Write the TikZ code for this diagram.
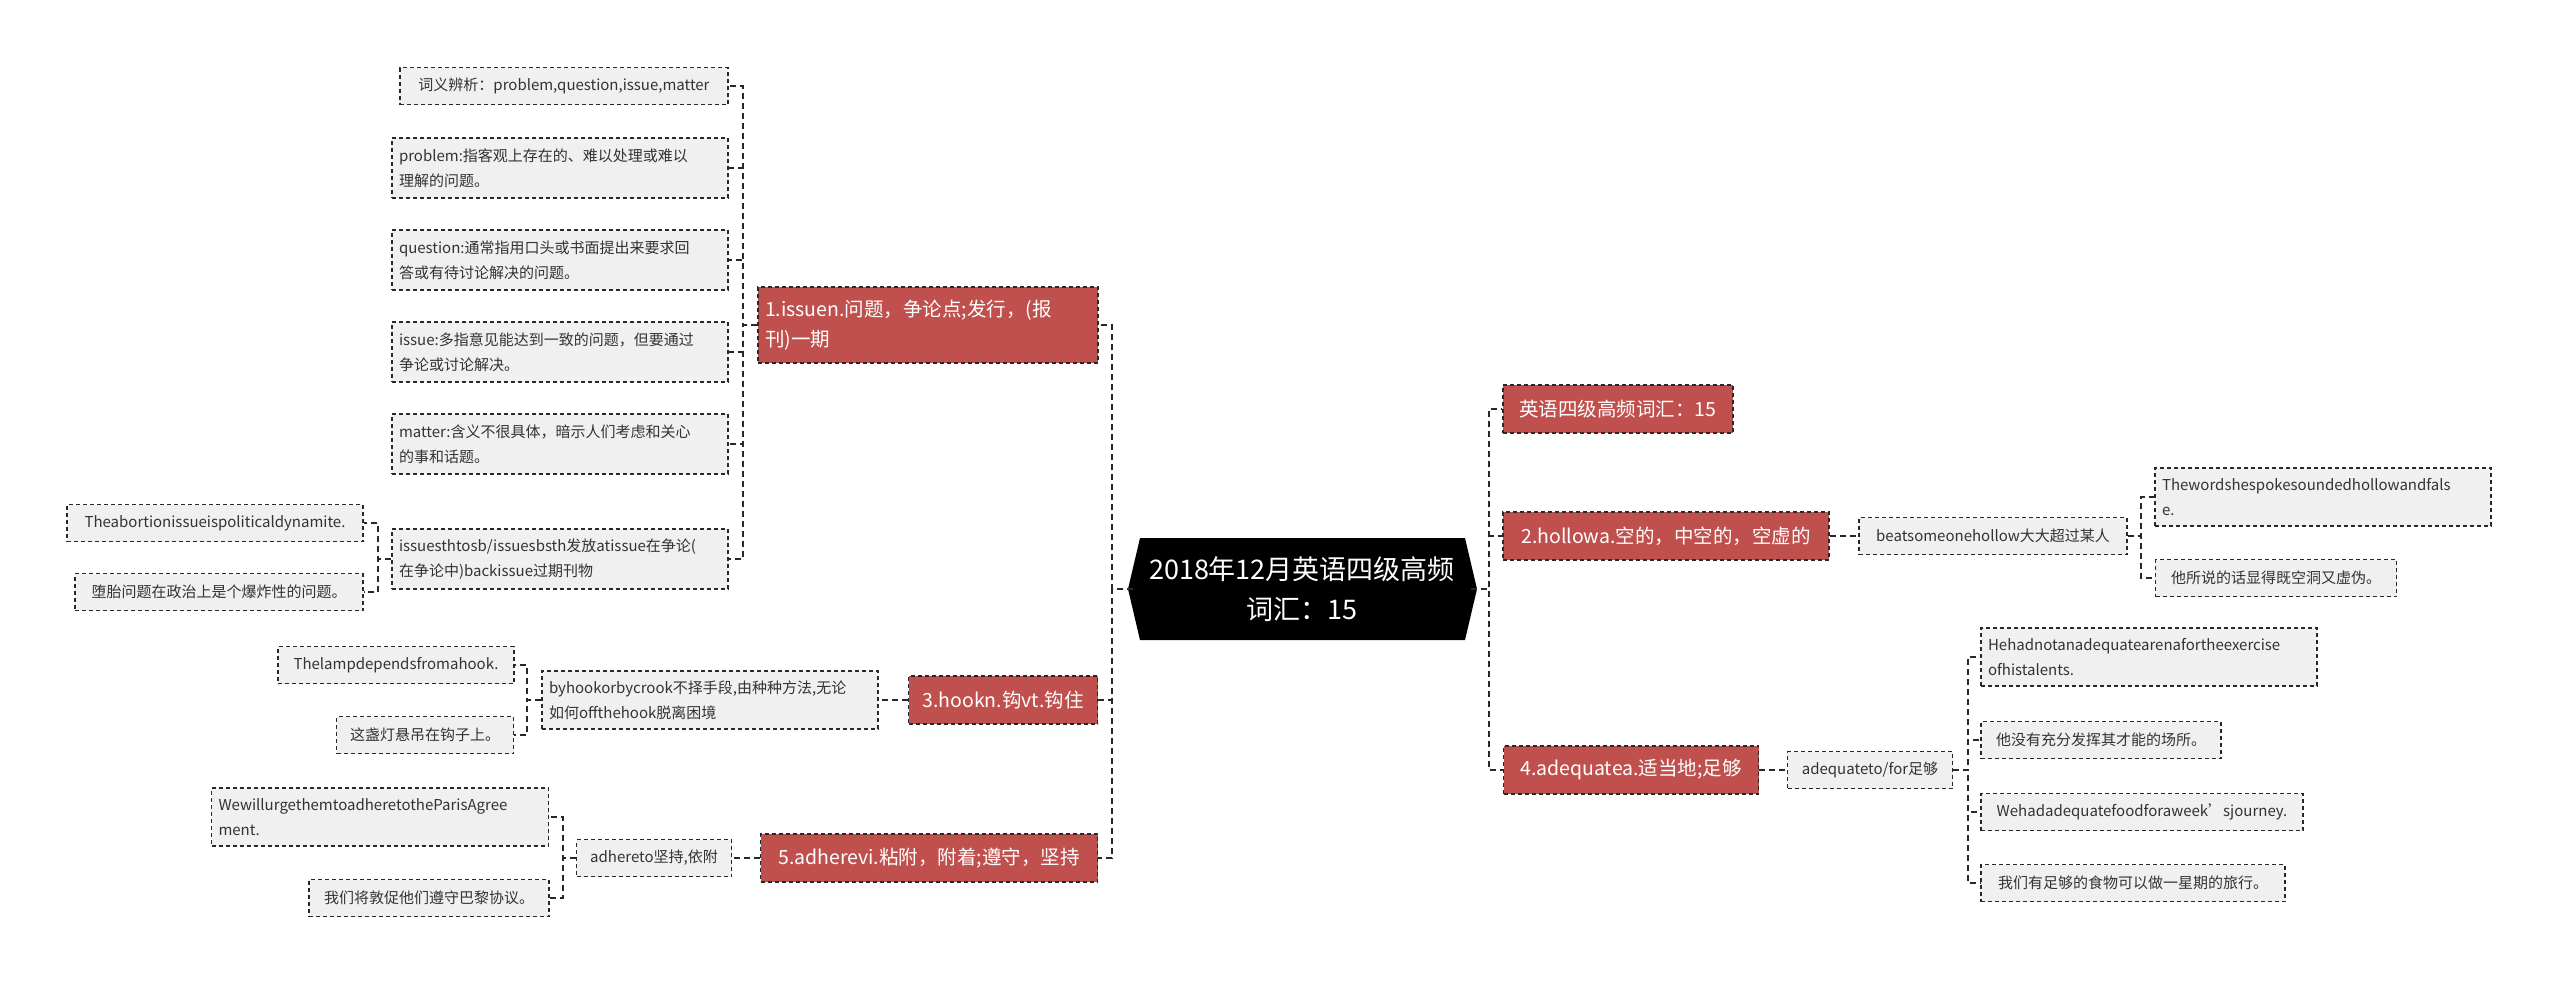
\documentclass[tikz,border=0pt]{standalone}
\usepackage{fontspec}
\setmainfont{Noto Sans CJK SC}
\definecolor{redbox}{RGB}{192,80,77}
\definecolor{greybox}{RGB}{240,240,240}
\definecolor{lineclr}{RGB}{40,40,40}
\begin{document}
\begin{tikzpicture}[x=1pt,y=-1pt,
  leaf/.style={draw=lineclr,fill=greybox,dash pattern=on 4pt off 3pt,line width=1.3pt,font=\fontsize{15}{25}\selectfont,text=black!80,align=left,inner xsep=6pt,anchor=center},
  topic/.style={draw=lineclr,fill=redbox,dash pattern=on 4pt off 3pt,line width=1.3pt,font=\fontsize{19.5}{30}\selectfont,text=white,align=left,inner xsep=6pt,anchor=center},
  conn/.style={draw=lineclr,dash pattern=on 6pt off 4pt,line width=1.4pt}]
\useasboundingbox (0,0) rectangle (2560,983);
% root
\node[minimum width=337,minimum height=102,inner sep=0] (root) at (1302,589) {};
\fill[black] (1140,538) -- (1465,538) -- (1477,589) -- (1465,640) -- (1140,640) -- (1128,589) -- cycle;
\node[text=white,align=center,font=\fontsize{27}{40}\selectfont] (roottxt) at (1302,589) {2018年12月英语四级高频\\词汇：15};
\coordinate (sL) at (1112,0);
\coordinate (sR) at (1489,0);
% right topics
\node[topic,minimum width=230,minimum height=48] (t0) at (1618,409) {英语四级高频词汇：15};
\node[topic,minimum width=326,minimum height=48] (t2) at (1666,536) {2.hollowa.空的，中空的，空虚的};
\node[topic,minimum width=255,minimum height=48] (t4) at (1631,770) {4.adequatea.适当地;足够};
\node[leaf,minimum width=268,minimum height=37] (b1) at (1993,536) {beatsomeonehollow大大超过某人};
\node[leaf,minimum width=336,minimum height=58,text width=322] (b2) at (2323,497) {Thewordshespokesoundedhollowandfals\\e.};
\node[leaf,minimum width=241,minimum height=37] (b3) at (2276,578) {他所说的话显得既空洞又虚伪。};
\node[leaf,minimum width=165,minimum height=37] (a1) at (1870,770) {adequateto/for足够};
\node[leaf,minimum width=336,minimum height=58,text width=322] (a2) at (2149,657) {Hehadnotanadequatearenafortheexercise\\ofhistalents.};
\node[leaf,minimum width=240,minimum height=37] (a3) at (2101,740) {他没有充分发挥其才能的场所。};
\node[leaf,minimum width=322,minimum height=37] (a4) at (2142,812) {Wehadadequatefoodforaweek'sjourney.};
\node[leaf,minimum width=304,minimum height=37] (a5) at (2133,883) {我们有足够的食物可以做一星期的旅行。};
\coordinate (sB) at (2141,0);
\coordinate (sA) at (1968,0);
\foreach \c in {t0,t2,t4} \draw[conn] (root.east) -- (root.east -| sR) |- (\c.west);
\draw[conn] (t2.east) -- (b1.west);
\foreach \c in {b2,b3} \draw[conn] (b1.east) -- (b1.east -| sB) |- (\c.west);
\draw[conn] (t4.east) -- (a1.west);
\foreach \c in {a2,a3,a4,a5} \draw[conn] (a1.east) -- (a1.east -| sA) |- (\c.west);
% left topics
\node[topic,minimum width=340,minimum height=76,text width=326] (l1) at (928,325) {1.issuen.问题，争论点;发行，(报\\刊)一期};
\node[topic,minimum width=189,minimum height=48] (l3) at (1003,700) {3.hookn.钩vt.钩住};
\node[topic,minimum width=337,minimum height=48] (l5) at (929,858) {5.adherevi.粘附，附着;遵守，坚持};
\node[leaf,minimum width=328,minimum height=37] (i1) at (564,86) {词义辨析：problem,question,issue,matter};
\node[leaf,minimum width=336,minimum height=60,text width=322] (i2) at (560,168) {problem:指客观上存在的、难以处理或难以\\理解的问题。};
\node[leaf,minimum width=336,minimum height=60,text width=322] (i3) at (560,260) {question:通常指用口头或书面提出来要求回\\答或有待讨论解决的问题。};
\node[leaf,minimum width=336,minimum height=60,text width=322] (i4) at (560,352) {issue:多指意见能达到一致的问题，但要通过\\争论或讨论解决。};
\node[leaf,minimum width=336,minimum height=60,text width=322] (i5) at (560,444) {matter:含义不很具体，暗示人们考虑和关心\\的事和话题。};
\node[leaf,minimum width=336,minimum height=60,text width=322] (i6) at (560,559) {issuesthtosb/issuesbsth发放atissue在争论(\\在争论中)backissue过期刊物};
\node[leaf,minimum width=296,minimum height=37] (e1) at (215,523) {Theabortionissueispoliticaldynamite.};
\node[leaf,minimum width=288,minimum height=37] (e2) at (219,592) {堕胎问题在政治上是个爆炸性的问题。};
\node[leaf,minimum width=336,minimum height=58,text width=322] (h1) at (710,700) {byhookorbycrook不择手段,由种种方法,无论\\如何offthehook脱离困境};
\node[leaf,minimum width=236,minimum height=37] (h2) at (396,665) {Thelampdependsfromahook.};
\node[leaf,minimum width=177,minimum height=37] (h3) at (425,735) {这盏灯悬吊在钩子上。};
\node[leaf,minimum width=155,minimum height=37] (d1) at (654,858) {adhereto坚持,依附};
\node[leaf,minimum width=337,minimum height=58,text width=323] (d2) at (380,817) {WewillurgethemtoadheretotheParisAgree\\ment.};
\node[leaf,minimum width=240,minimum height=37] (d3) at (429,898) {我们将敦促他们遵守巴黎协议。};
\coordinate (sI) at (743,0);
\coordinate (sE) at (378,0);
\coordinate (sH) at (527,0);
\coordinate (sD) at (563,0);
\foreach \c in {l1,l3,l5} \draw[conn] (root.west) -- (root.west -| sL) |- (\c.east);
\foreach \c in {i1,i2,i3,i4,i5,i6} \draw[conn] (l1.west) -- (l1.west -| sI) |- (\c.east);
\foreach \c in {e1,e2} \draw[conn] (i6.west) -- (i6.west -| sE) |- (\c.east);
\draw[conn] (l3.west) -- (h1.east);
\foreach \c in {h2,h3} \draw[conn] (h1.west) -- (h1.west -| sH) |- (\c.east);
\draw[conn] (l5.west) -- (d1.east);
\foreach \c in {d2,d3} \draw[conn] (d1.west) -- (d1.west -| sD) |- (\c.east);
\end{tikzpicture}
\end{document}
